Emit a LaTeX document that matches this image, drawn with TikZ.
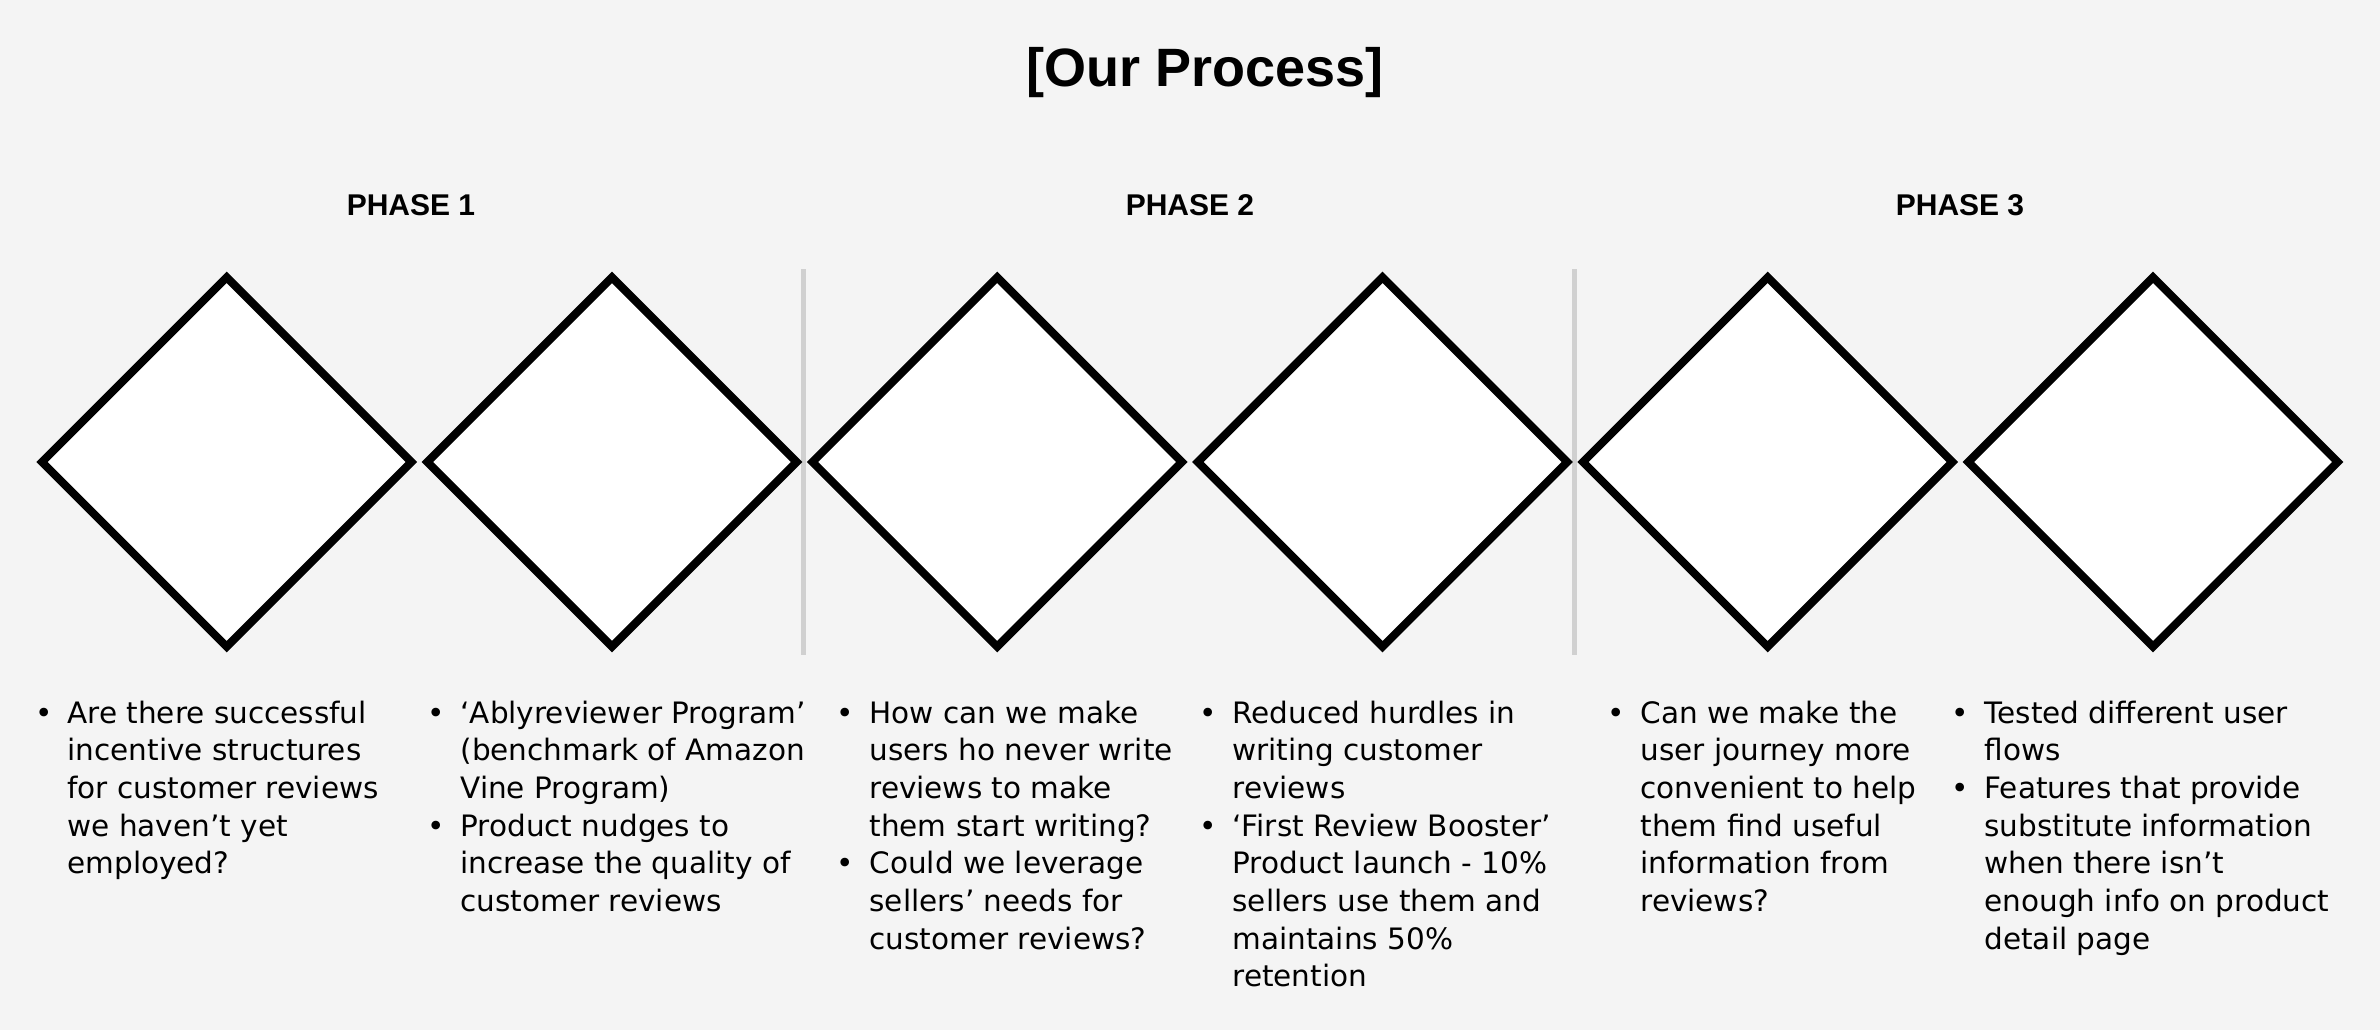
\documentclass[tikz,border=0pt]{standalone}
\usepackage{fontspec}
\setmainfont{DejaVu Sans}
\newfontfamily\headfont{Liberation Sans}
\usetikzlibrary{shapes.geometric}
\definecolor{bgc}{HTML}{F4F4F4}
\definecolor{sepc}{HTML}{D0D0D0}
\begin{document}
\begin{tikzpicture}[x=1pt,y=-1pt,
  dia/.style={diamond, draw=black, fill=white, line width=8pt, minimum width=372.6pt, minimum height=372.6pt, inner sep=0pt, aspect=1},
  sepline/.style={draw=sepc, line width=5pt},
  ttl/.style={font=\headfont\bfseries\fontsize{54}{60}\selectfont, anchor=base, inner sep=0pt},
  phase/.style={font=\headfont\bfseries\fontsize{30}{36}\selectfont, anchor=base, inner sep=0pt},
  body/.style={font=\fontsize{29.5}{37.7}\selectfont, anchor=base west, inner sep=0pt, align=left}
]
\fill[bgc] (0,0) rectangle (2380,1030);
\useasboundingbox (0,0) rectangle (2380,1030);

% title and phase headings
\node[ttl] (title) at (1205,87) {[Our Process]};
\node[phase] (ph1) at (411,215) {PHASE 1};
\node[phase] (ph2) at (1190,215) {PHASE 2};
\node[phase] (ph3) at (1960,215) {PHASE 3};

% separators
\coordinate (s1t) at (803,269); \coordinate (s1b) at (803,655);
\coordinate (s2t) at (1574,269); \coordinate (s2b) at (1574,655);
\draw[sepline] (s1t) -- (s1b);
\draw[sepline] (s2t) -- (s2b);

% diamonds
\node[dia] (d1) at (226.7,462) {};
\node[dia] (d2) at (612.0,462) {};
\node[dia] (d3) at (997.2,462) {};
\node[dia] (d4) at (1382.5,462) {};
\node[dia] (d5) at (1767.7,462) {};
\node[dia] (d6) at (2153.0,462) {};

% bullet texts
\node[body] (t1) at (35.3,723) {\begin{tabular}[t]{@{}p{32pt}@{}l@{}}
• & Are there successful\\
  & incentive structures\\
  & for customer reviews\\
  & we haven’t yet\\
  & employed?
\end{tabular}};
\node[body] (t2) at (427.3,723) {\begin{tabular}[t]{@{}p{33pt}@{}l@{}}
• & ‘Ablyreviewer Program’\\
  & (benchmark of Amazon\\
  & Vine Program)\\
• & Product nudges to\\
  & increase the quality of\\
  & customer reviews
\end{tabular}};
\node[body] (t3) at (836.3,723) {\begin{tabular}[t]{@{}p{33pt}@{}l@{}}
• & How can we make\\
  & users ho never write\\
  & reviews to make\\
  & them start writing?\\
• & Could we leverage\\
  & sellers’ needs for\\
  & customer reviews?
\end{tabular}};
\node[body] (t4) at (1199.3,723) {\begin{tabular}[t]{@{}p{33pt}@{}l@{}}
• & Reduced hurdles in\\
  & writing customer\\
  & reviews\\
• & ‘First Review Booster’\\
  & Product launch - 10\%\\
  & sellers use them and\\
  & maintains 50\%\\
  & retention
\end{tabular}};
\node[body] (t5) at (1607.3,723) {\begin{tabular}[t]{@{}p{33pt}@{}l@{}}
• & Can we make the\\
  & user journey more\\
  & convenient to help\\
  & them find useful\\
  & information from\\
  & reviews?
\end{tabular}};
\node[body] (t6) at (1951.3,723) {\begin{tabular}[t]{@{}p{33pt}@{}l@{}}
• & Tested different user\\
  & flows\\
• & Features that provide\\
  & substitute information\\
  & when there isn’t\\
  & enough info on product\\
  & detail page
\end{tabular}};
\end{tikzpicture}
\end{document}
